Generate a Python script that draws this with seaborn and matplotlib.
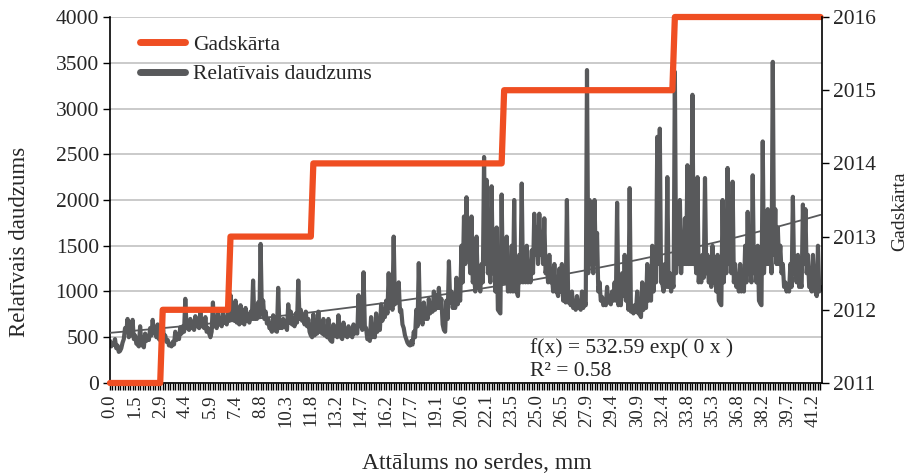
import numpy as np
import pandas as pd
import matplotlib
matplotlib.use("Agg")
import matplotlib.pyplot as plt
from matplotlib.lines import Line2D
import seaborn as sns

sns.set_theme(style="white")
plt.rcParams['font.family'] = ['Liberation Serif', 'DejaVu Serif']

ORANGE = '#ef4e22'
GRAY = '#58595b'

# Relative amount, one value per sample along the core
rel_amount = [
    460, 430, 480, 410, 350, 440, 600, 700, 560, 690,
    520, 420, 620, 410, 540, 500, 600, 690, 560, 640,
    470, 660, 520, 470, 420, 450, 560, 530, 610, 620,
    920, 600, 700, 630, 730, 650, 790, 660, 720, 600,
    500, 880, 640, 760, 690, 800, 700, 760, 960, 760,
    900, 700, 850, 680, 820, 720, 780, 1120, 760, 880,
    1520, 900, 780, 700, 600, 740, 570, 1040, 640, 700,
    620, 860, 780, 700, 760, 1120, 800, 720, 780, 700,
    520, 750, 560, 780, 610, 700, 560, 700, 460, 640,
    560, 740, 500, 660, 530, 620, 520, 640, 560, 960,
    700, 1210, 600, 480, 720, 520, 760, 640, 860, 800,
    900, 1200, 950, 1600, 1050, 1100, 800, 600, 480, 420,
    460, 560, 800, 1310, 700, 880, 760, 920, 860, 1000,
    960, 1040, 920, 580, 900, 1330, 1000, 900, 1150, 950,
    1500, 1820, 2030, 1500, 1820, 1200, 1600, 1100, 1300, 2470,
    2220, 1300, 2150, 1400, 1700, 780, 2060, 1300, 1600, 1100,
    1500, 2000, 1000, 1400, 2180, 1200, 1500, 1250, 1450, 1850,
    1700, 1850, 1600, 1800, 1300, 1400, 1200, 1300, 1000, 1250,
    1300, 960, 2000, 900, 1000, 850, 950, 830, 1000, 900,
    3420, 2000, 1500, 2000, 1640, 1100, 940, 870, 1050, 900,
    1000, 1100, 1970, 900, 1200, 1400, 1000, 2130, 800, 850,
    1000, 750, 1100, 900, 1300, 1000, 1500, 1400, 2690, 2780,
    1090, 1300, 2250, 1200, 1100, 3400, 1700, 2000, 1600, 1800,
    2380, 1500, 3150, 1500, 2250, 1300, 1400, 2240, 1400, 1150,
    1500, 1200, 1400, 870, 2000, 1600, 2350, 1500, 2200, 1300,
    1100, 1300, 1100, 1500, 1870, 1300, 2270, 1400, 1500, 870,
    2640, 1600, 1900, 1500, 3510, 1900, 1700, 1500, 1300, 1100,
    1080, 1300, 2035, 1300, 1400, 1100, 1950, 1900, 1400, 1060,
    1400, 1000, 1500, 1050,
]

# Low readings lying between two neighbouring samples above (lower edge of the band)
rel_between = [
    400, 420, 380, 340, 380, 480, 560, 500, 520, 480,
    430, 400, 430, 390, 460, 470, 520, 560, 500, 480,
    440, 480, 450, 410, 400, 420, 470, 480, 540, 560,
    600, 580, 600, 580, 620, 600, 620, 600, 560, 540,
    560, 620, 600, 640, 620, 660, 640, 680, 700, 680,
    660, 640, 660, 640, 680, 660, 700, 700, 700, 720,
    760, 700, 650, 600, 560, 580, 560, 600, 600, 620,
    580, 660, 640, 620, 660, 700, 680, 640, 620, 560,
    500, 520, 540, 560, 540, 520, 500, 480, 450, 520,
    500, 520, 480, 520, 500, 520, 500, 540, 540, 620,
    580, 620, 480, 460, 500, 500, 560, 580, 680, 720,
    760, 820, 800, 860, 880, 780, 640, 520, 440, 410,
    420, 500, 620, 680, 640, 700, 700, 760, 780, 800,
    820, 820, 640, 560, 700, 880, 820, 820, 860, 900,
    1100, 1300, 1400, 1200, 1100, 1000, 1050, 1000, 1100, 1300,
    1200, 1100, 1200, 1000, 800, 760, 1100, 1100, 1000, 1000,
    1000, 1000, 950, 1100, 1100, 1100, 1100, 1100, 1200, 1400,
    1300, 1400, 1300, 1200, 1100, 1100, 1000, 1000, 950, 1000,
    900, 880, 880, 850, 820, 800, 820, 800, 820, 850,
    1200, 1300, 1200, 1300, 1000, 900, 850, 850, 880, 860,
    900, 900, 850, 850, 950, 900, 800, 780, 760, 780,
    760, 720, 800, 820, 900, 900, 1000, 1100, 1300, 1100,
    1000, 1050, 1050, 1000, 1050, 1200, 1300, 1200, 1300, 1300,
    1300, 1300, 1300, 1200, 1100, 1100, 1150, 1200, 1100, 1050,
    1100, 1000, 900, 850, 1100, 1200, 1300, 1200, 1100, 1050,
    1000, 1000, 1000, 1100, 1200, 1100, 1200, 1100, 900, 850,
    1200, 1300, 1300, 1200, 1400, 1300, 1300, 1200, 1050, 1000,
    1000, 1050, 1200, 1100, 1050, 1050, 1300, 1200, 1050, 1000,
    1050, 950, 1000,
]

# Category labels shown every 10th sample (distance from core, mm)
tick_labels = ['0.0', '1.5', '2.9', '4.4', '5.9', '7.4', '8.8', '10.3', '11.8',
               '13.2', '14.7', '16.2', '17.7', '19.1', '20.6', '22.1', '23.5',
               '25.0', '26.5', '27.9', '29.4', '30.9', '32.4', '33.8', '35.3',
               '36.8', '38.2', '39.7', '41.2']

# Year rings: first sample index of each year
years = [2011, 2012, 2013, 2014, 2015, 2016]
year_start_idx = [0, 21, 48, 81, 157, 225]

n = len(rel_amount)
idx = np.arange(n)
year_per_sample = [years[np.searchsorted(year_start_idx, i, side='right') - 1] for i in idx]
df = pd.DataFrame({'idx': idx, 'rel': rel_amount, 'year': year_per_sample})

# dense series: samples with the in-between lows slotted in
dense = pd.concat([
    pd.DataFrame({'pos': idx, 'rel': rel_amount}),
    pd.DataFrame({'pos': idx[:-1] + 0.5, 'rel': rel_between}),
]).sort_values('pos')

# Exponential trend fitted on the samples
b, ln_a = np.polyfit(idx + 1, np.log(df['rel']), 1)
df['trend'] = np.exp(ln_a) * np.exp(b * (idx + 1))

fig = plt.figure(figsize=(9.12, 4.75), dpi=100)
ax = fig.add_axes([0.1206, 0.1937, 0.7807, 0.7705])
ax.yaxis.grid(True, color='#bcbcbc', lw=1.1)
ax.set_axisbelow(True)

sns.lineplot(data=dense, x='pos', y='rel', ax=ax, color=GRAY, lw=3.0, zorder=2)
sns.lineplot(data=df, x='idx', y='trend', ax=ax, color=GRAY, lw=1.3, zorder=3)
ax.set_ylim(0, 4000)
ax.set_yticks(range(0, 4001, 500))
ax.set_xlim(0, n - 0.4)
ax.set_xticks(range(0, n, 10))
ax.set_xticklabels(tick_labels, rotation=90, fontsize=13.5)
ax.set_xticks(idx, minor=True)
ax.tick_params(axis='x', which='both', bottom=True, direction='out', length=5,
               width=1, color='black', pad=3)
ax.tick_params(axis='y', left=True, direction='out', length=5, width=1,
               color='black', labelsize=15.5, pad=3)
ax.set_xlabel('Attālums no serdes, mm', fontsize=17)
ax.xaxis.set_label_coords(0.515, -0.19)
ax.set_ylabel('Relatīvais daudzums', fontsize=16.5)
ax.yaxis.set_label_coords(-0.113, 0.385)
for side in ['top', 'right']:
    ax.spines[side].set_visible(False)
for side in ['left', 'bottom']:
    ax.spines[side].set_color('black')
    ax.spines[side].set_linewidth(1.2)

ax2 = ax.twinx()
sns.lineplot(data=df, x='idx', y='year', ax=ax2, color=ORANGE, lw=4.5, clip_on=False)
ax2.set_ylim(2011, 2016)
ax2.set_yticks(years)
ax2.set_ylabel('Gadskārta', fontsize=14, rotation=90)
ax2.yaxis.set_label_coords(1.097, 0.47)
ax2.tick_params(axis='y', right=True, direction='out', length=5, width=1,
                color='black', labelsize=15.5, pad=3)
for side in ['top', 'left', 'bottom']:
    ax2.spines[side].set_visible(False)
ax2.spines['right'].set_color('black')
ax2.spines['right'].set_linewidth(1.2)

handles = [Line2D([], [], color=ORANGE, lw=5), Line2D([], [], color=GRAY, lw=5)]
ax2.legend(handles, ['Gadskārta', 'Relatīvais daudzums'], loc='upper left',
           bbox_to_anchor=(0.042, 0.952), frameon=False, fontsize=15.5,
           handlelength=2.1, handletextpad=0.37, labelspacing=0.45,
           borderpad=0, borderaxespad=0)

ax2.text(0.59, 0.095, 'f(x) = 532.59 exp( 0 x )', transform=ax2.transAxes,
         fontsize=15.5, va='center', ha='left')
ax2.text(0.59, 0.032, 'R² = 0.58', transform=ax2.transAxes,
         fontsize=15.5, va='center', ha='left')

fig.savefig('out.png', dpi=100)
